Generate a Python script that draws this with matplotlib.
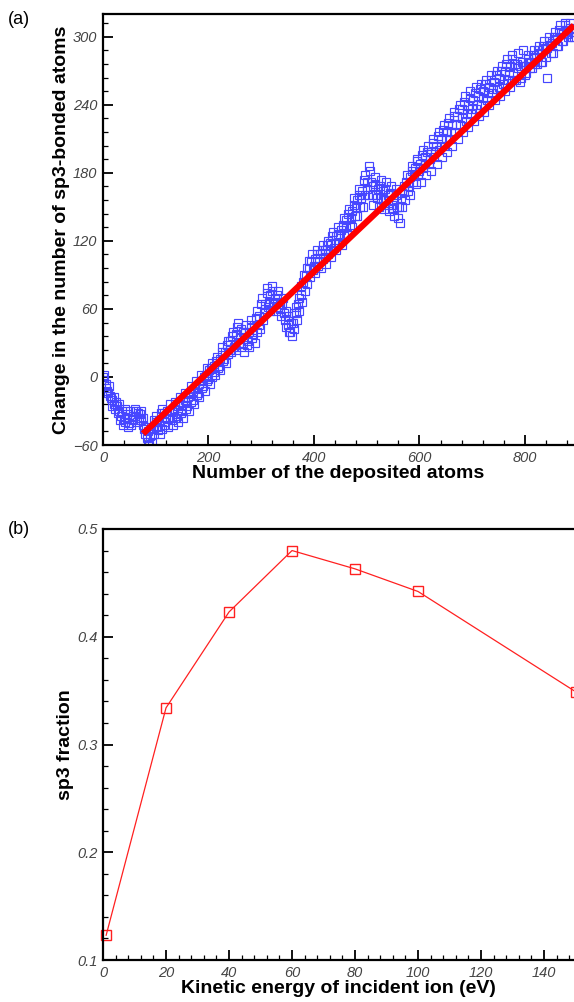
import numpy as np
import matplotlib.pyplot as plt
from matplotlib.ticker import MultipleLocator

plt.rcParams['font.family'] = ['Liberation Sans', 'DejaVu Sans']

# (a) change in sp3 count vs deposited atoms, three reads of the point cloud
# read A: x = 0, 5, 10, ...
d_sp3_a = [
    0, -6, -14, -19, -24, -22, -30, -34, -37, -33, -41, -37, -34, -40, -33, -42,
    -50, -57, -52, -46, -40, -47, -32, -42, -36, -30, -38, -28, -34, -24, -30, -20,
    -26, -14, -20, -10, -14, -4, -8, 2, -2, 8, 4, 14, 10, 22, 16, 28,
    24, 36, 28, 44, 34, 30, 40, 32, 44, 38, 52, 46, 64, 56, 74, 66,
    76, 64, 72, 60, 64, 50, 46, 40, 48, 56, 64, 72, 84, 90, 96, 102,
    98, 108, 102, 112, 106, 116, 112, 124, 118, 126, 124, 134, 132, 144, 140, 152,
    150, 160, 158, 174, 166, 186, 160, 170, 158, 168, 156, 166, 152, 162, 148, 160,
    140, 158, 164, 172, 168, 182, 178, 190, 182, 196, 188, 198, 192, 206, 198, 212,
    204, 218, 210, 224, 216, 230, 222, 236, 228, 242, 232, 246, 236, 250, 240, 254,
    246, 258, 250, 262, 254, 266, 256, 270, 262, 276, 266, 280, 262, 276, 260, 278,
    266, 280, 272, 284, 276, 288, 278, 292, 282, 296, 286, 300, 292, 306, 296, 310,
    302, 308, 300,
]
# read B: x = 2.5, 7.5, ...
d_sp3_b = [
    -3, -12, -17, -26, -28, -32, -38, -42, -40, -44, -42, -38, -30, -36, -38, -46,
    -54, -60, -58, -50, -44, -50, -46, -40, -44, -36, -42, -36, -40, -32, -36, -28,
    -30, -22, -24, -16, -18, -10, -12, -4, -6, 0, 2, 8, 6, 14, 12, 20,
    22, 26, 24, 30, 26, 22, 28, 26, 34, 30, 40, 42, 50, 60, 62, 58,
    66, 58, 62, 54, 56, 44, 40, 36, 42, 50, 58, 66, 76, 82, 88, 94,
    92, 98, 96, 104, 100, 108, 106, 114, 112, 118, 116, 124, 126, 134, 132, 142,
    142, 150, 150, 160, 160, 172, 152, 160, 150, 158, 148, 156, 146, 152, 142, 150,
    136, 150, 156, 164, 160, 172, 170, 178, 172, 184, 178, 188, 182, 194, 188, 200,
    194, 204, 198, 210, 204, 216, 210, 222, 216, 226, 220, 232, 226, 236, 230, 240,
    234, 244, 240, 250, 244, 254, 248, 258, 252, 262, 256, 268, 262, 272, 264, 274,
    268, 278, 272, 282, 276, 286, 278, 290, 264, 292, 286, 298, 292, 304, 296, 306,
    300, 304, 300,
]
# read C: x = 1.25, 6.25, ...
d_sp3_c = [
    2, -10, -8, -20, -18, -26, -24, -30, -28, -36, -30, -34, -28, -32, -30, -36,
    -44, -48, -46, -38, -34, -38, -28, -32, -30, -24, -30, -22, -26, -18, -22, -14,
    -18, -8, -12, -4, -6, 2, 0, 8, 6, 12, 10, 18, 16, 26, 22, 32,
    32, 40, 38, 48, 42, 40, 46, 40, 50, 46, 58, 54, 70, 64, 78, 72,
    80, 70, 76, 66, 70, 58, 54, 48, 56, 62, 70, 80, 90, 96, 102, 108,
    104, 112, 108, 116, 112, 120, 118, 128, 124, 132, 130, 140, 138, 148, 146, 158,
    156, 166, 164, 178, 172, 182, 168, 176, 166, 174, 164, 172, 160, 168, 156, 166,
    150, 162, 168, 178, 176, 186, 184, 192, 188, 200, 194, 204, 198, 210, 204, 216,
    210, 222, 216, 228, 222, 234, 230, 240, 236, 248, 240, 252, 244, 256, 248, 258,
    252, 262, 256, 266, 260, 270, 264, 274, 270, 280, 274, 284, 276, 286, 274, 288,
    274, 284, 278, 288, 282, 292, 286, 296, 290, 300, 294, 304, 300, 310, 302, 312,
    306, 312, 304,
]
x_a = np.arange(len(d_sp3_a)) * 5.0
x_b = np.arange(len(d_sp3_b)) * 5.0 + 2.5
x_c = np.arange(len(d_sp3_c)) * 5.0 + 1.25
fit_x = [76, 893]
fit_y = [-50, 310]

# (b) sp3 fraction vs ion energy
energy = [1, 20, 40, 60, 80, 100, 150]
sp3_frac = [0.123, 0.334, 0.423, 0.480, 0.463, 0.442, 0.349]

W, H = 574, 1002
fig = plt.figure(figsize=(W / 100, H / 100), dpi=100)
ax1 = fig.add_axes([103 / W, 1 - 445 / H, 1 - 103 / W, 431 / H])
ax2 = fig.add_axes([103 / W, 1 - 960 / H, 1 - 103 / W, 431 / H])

for xs, ys in ((x_a, d_sp3_a), (x_b, d_sp3_b), (x_c, d_sp3_c)):
    ax1.plot(xs, ys, 's', ms=5.4, mfc='none', mec='#4646ff', mew=0.85)
ax1.plot(fit_x, fit_y, '-', color='#ff0000', lw=4.5, solid_capstyle='butt')
ax1.set_xlim(0, 893)
ax1.set_ylim(-60, 320)
ax1.xaxis.set_major_locator(MultipleLocator(200))
ax1.xaxis.set_minor_locator(MultipleLocator(40))
ax1.yaxis.set_major_locator(MultipleLocator(60))
ax1.yaxis.set_minor_locator(MultipleLocator(12))
ax1.set_xlabel('Number of the deposited atoms', fontsize=14, fontweight='bold',
               labelpad=0)
ax1.set_ylabel('Change in the number of sp3-bonded atoms', fontsize=14,
               fontweight='bold', labelpad=2)

ax2.plot(energy, sp3_frac, '-s', color='#ff2020', lw=0.9, ms=7.5, mfc='none',
         mec='#ff2020', mew=1.0, clip_on=False)
ax2.set_xlim(0, 149.5)
ax2.set_ylim(0.1, 0.5)
ax2.xaxis.set_major_locator(MultipleLocator(20))
ax2.xaxis.set_minor_locator(MultipleLocator(4))
ax2.yaxis.set_major_locator(MultipleLocator(0.1))
ax2.yaxis.set_minor_locator(MultipleLocator(0.02))
ax2.set_xlabel('Kinetic energy of incident ion (eV)', fontsize=14,
               fontweight='bold', labelpad=0)
ax2.set_ylabel('sp3 fraction', fontsize=14, fontweight='bold', labelpad=2)

for ax in (ax1, ax2):
    ax.spines['right'].set_visible(False)
    for s in ('left', 'bottom', 'top'):
        ax.spines[s].set_linewidth(1.6)
    ax.tick_params(which='major', direction='in', length=7, width=1.3,
                   labelsize=10.5, labelcolor='#444444', pad=4)
    ax.tick_params(which='minor', direction='in', length=3.5, width=0.9)
    for lab in ax.get_xticklabels() + ax.get_yticklabels():
        lab.set_fontstyle('italic')

ax2.yaxis.set_major_formatter(plt.FuncFormatter(lambda v, p: '%.1f' % v))

fig.text(8 / W, 1 - 20 / H, '(a)', fontsize=13, va='center', ha='left')
fig.text(8 / W, 1 - 529 / H, '(b)', fontsize=13, va='center', ha='left')

fig.savefig('out.png', dpi=100)
